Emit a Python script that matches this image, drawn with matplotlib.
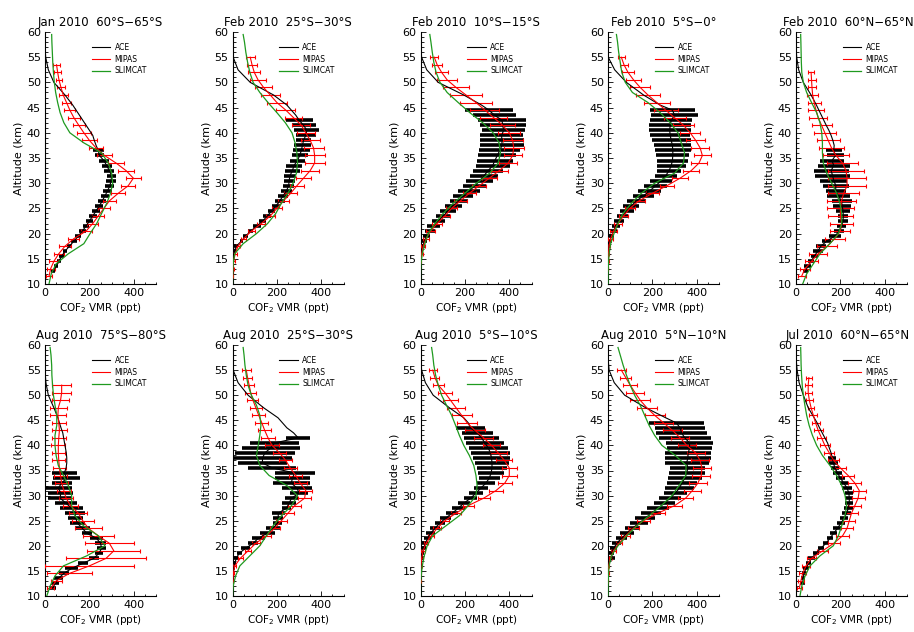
import numpy as np
import matplotlib
matplotlib.use('Agg')
import matplotlib.pyplot as plt
from matplotlib.lines import Line2D
from matplotlib.ticker import MultipleLocator

nan = np.nan

titles = ['Jan 2010  60°S\u221265°S', 'Feb 2010  25°S\u221230°S', 'Feb 2010  10°S\u221215°S',
          'Feb 2010  5°S\u22120°', 'Feb 2010  60°N\u221265°N',
          'Aug 2010  75°S\u221280°S', 'Aug 2010  25°S\u221230°S', 'Aug 2010  5°S\u221210°S',
          'Aug 2010  5°N\u221210°N', 'Jul 2010  60°N\u221265°N']

# ACE levels (km)
ace_alt = [10.5, 11.5, 12.5, 13.5, 14.5, 15.5, 16.5, 17.5, 18.5, 19.5,
           20.5, 21.5, 22.5, 23.5, 24.5, 25.5, 26.5, 27.5, 28.5, 29.5,
           30.5, 31.5, 32.5, 33.5, 34.5, 35.5, 36.5, 37.5, 38.5, 39.5,
           40.5, 41.5, 42.5, 43.5, 44.5, 45.5,
           47.5, 50.0, 52.5, 55.0, 57.5, 60.0]

ace_vmr = [
    [nan, nan, 35, 50, 62, 75, 90, 110, 130, 150,
     168, 185, 200, 215, 230, 245, 258, 270, 282, 292,
     298, 300, 290, 278, 265, 245, 240, 230, 222, 215,
     200, 185, 170, 155, 140, 125,
     90, 40, 15, 3, 0, 0],
    [0, 0, 1, 1, 2, 3, 8, 17, 40, 59,
     82, 110, 136, 157, 176, 196, 213, 228, 243, 253,
     255, 259, 270, 277, 292, 303, 310, 315, 320, 330,
     335, 320, 300, 285, 265, 245,
     185, 80, 25, 3, 0, 0],
    [0, 0, 0, 0, 1, 2, 5, 10, 17, 27,
     42, 58, 80, 102, 125, 148, 173, 192, 218, 245,
     267, 286, 305, 325, 335, 346, 357, 367, 367, 365,
     375, 370, 367, 333, 308, 275,
     195, 80, 28, 5, 0, 0],
    [0, 0, 0, 0, 0, 0, 1, 4, 8, 15,
     25, 35, 48, 65, 86, 105, 128, 160, 188, 215,
     240, 260, 275, 285, 290, 292, 292, 290, 285, 280,
     278, 280, 285, 300, 290, 235,
     160, 83, 30, 1, 0, 0],
    [nan, nan, 42, 53, 68, 82, 98, 112, 138, 175,
     195, 205, 212, 213, 212, 208, 205, 190, 178, 180,
     170, 165, 158, 170, 162, 178, 170, 172, 166, 158,
     148, 136, 125, 114, 103, 92,
     68, 33, 12, 3, 0, 0],
    [nan, 35, 45, 60, 85, 120, 170, 220, 243, 255,
     250, 232, 188, 168, 146, 139, 135, 120, 94, 68,
     71, 60, 75, 98, 87, 95, 98, 98, 96, 92,
     88, 84, 80, 72, 65, 58,
     40, 15, 4, 0, 0, 0],
    [0, 0, 0, 1, 2, 5, 10, 17, 30, 59,
     93, 116, 157, 183, 202, 206, 206, 243, 255, 266,
     300, 290, 265, 270, 280, 180, 135, 135, 146, 172,
     190, 296, 275, 245, 225, 205,
     140, 70, 25, 3, 0, 0],
    [0, 0, 0, 0, 1, 2, 4, 6, 8, 14,
     22, 32, 46, 65, 87, 113, 143, 170, 196, 226,
     250, 272, 295, 310, 318, 322, 322, 320, 315, 305,
     290, 275, 255, 225, 215, 195,
     130, 57, 22, 5, 0, 0],
    [0, 0, 0, 0, 0, 1, 3, 20, 15, 25,
     40, 60, 85, 110, 140, 168, 195, 225, 255, 280,
     303, 322, 333, 346, 354, 360, 354, 360, 361, 368,
     367, 346, 331, 325, 307, 260,
     170, 75, 28, 5, 0, 0],
    [nan, nan, 30, 32, 36, 45, 57, 70, 90, 112,
     135, 153, 170, 187, 202, 217, 228, 236, 240, 240,
     238, 230, 215, 200, 187, 176, 168, 164, 158, 150,
     142, 130, 118, 106, 95, 82,
     55, 33, 14, 5, 0, 0],
]

N6 = [nan] * 6
ace_err = [
    [nan, nan, 8, 9, 10, 10, 11, 12, 13, 14,
     15, 15, 16, 17, 18, 18, 19, 20, 20, 21,
     22, 22, 22, 22, 22, 22, 25, nan, nan, nan] + N6 + N6,
    [nan, nan, nan, nan, nan, nan, 7, 8, 8, 11,
     12, 17, 17, 18, 15, 17, 22, 22, 23, 26,
     25, 29, 33, 34, 34, 37, 37, 37, 35, 46,
     56, 54, 61, nan, nan, nan] + N6,
    [nan, nan, nan, nan, nan, nan, 5, 10, 12, 15,
     22, 28, 30, 30, 37, 37, 42, 45, 48, 52,
     60, 64, 67, 76, 82, 86, 93, 97, 97, 95,
     96, 103, 107, 96, 108, nan] + N6,
    [nan, nan, nan, nan, nan, nan, nan, 5, 8, 12,
     15, 18, 22, 26, 30, 36, 42, 48, 52, 52,
     50, 50, 55, 65, 70, 75, 80, 82, 88, 90,
     95, 95, 95, 105, 100, nan] + N6,
    [nan, nan, 11, 15, 15, 15, 22, 22, 20, 28,
     22, 22, 22, 22, 30, 40, 45, 52, 45, 60,
     60, 79, 79, 71, 52, 40, 37, nan, nan, nan] + N6 + N6,
    [nan, 15, 18, 19, 22, 30, 22, 22, 19, 22,
     26, 30, 22, 34, 34, 34, 45, 53, 49, 53,
     56, 60, 45, 60, 56, nan, nan, nan, nan, nan] + N6 + N6,
    [nan, nan, nan, nan, nan, 5, 7, 9, 11, 19,
     22, 30, 34, 30, 19, 22, 30, 22, 33, 30,
     41, 67, 82, 78, 90, 108, 112, 133, 135, 131,
     109, 53, nan, nan, nan, nan] + N6,
    [nan, nan, nan, nan, nan, nan, 4, 5, 7, 9,
     13, 17, 19, 22, 22, 26, 28, 30, 28, 28,
     30, 32, 40, 48, 58, 68, 78, 85, 88, 88,
     85, 80, 70, 65, nan, nan] + N6,
    [nan, nan, nan, nan, nan, nan, nan, 10, 12, 15,
     20, 25, 30, 35, 40, 45, 45, 48, 48, 50,
     53, 64, 68, 77, 81, 79, 99, 105, 103, 102,
     104, 118, 115, 113, 124, nan] + N6,
    [nan, nan, 10, 10, 10, 12, 12, 15, 15, 15,
     15, 15, 15, 19, 19, 19, 19, 19, 19, 19,
     19, 22, 19, 22, 19, 19, 19, 18, nan, nan] + N6 + N6,
]

# MIPAS levels (km)
mipas_alt = [11.5, 13.0, 14.5, 16.0, 17.5, 19.0, 20.5, 22.0, 23.5, 25.0,
             26.5, 28.0, 29.5, 31.0, 32.5, 34.0, 35.5, 37.0, 38.5, 40.0,
             41.5, 43.0, 44.5, 46.0, 47.5, 49.0, 50.5, 52.0, 53.5, 55.0]

mipas_vmr = [
    [18, 25, 40, 62, 90, 130, 185, 215, 240, 265,
     290, 330, 375, 398, 365, 320, 268, 230, 200, 175,
     152, 130, 112, 97, 82, 72, 63, 57, 52, nan],
    [1, 2, 5, 12, 25, 50, 85, 130, 170, 200,
     230, 262, 290, 320, 350, 370, 370, 365, 350, 330,
     310, 275, 240, 200, 170, 140, 115, 98, 88, 80],
    [nan, nan, 1, 5, 12, 25, 45, 75, 110, 140,
     180, 220, 265, 310, 355, 395, 415, 420, 415, 400,
     370, 330, 290, 250, 205, 160, 120, 95, 75, 62],
    [nan, 0, 1, 2, 5, 12, 25, 45, 70, 98,
     140, 200, 265, 325, 375, 410, 425, 415, 395, 370,
     340, 300, 260, 220, 180, 145, 115, 90, 72, 60],
    [25, 40, 70, 100, 140, 175, 200, 205, 200, 200,
     205, 215, 230, 230, 225, 210, 180, 160, 145, 130,
     115, 100, 90, 82, 75, 72, 70, 68, nan, nan],
    [25, 50, 110, 200, 275, 310, 290, 240, 195, 170,
     150, 115, 95, 85, 75, 70, 65, 62, 60, 60,
     62, 65, 62, 58, 60, 70, 75, 75, nan, nan],
    [0, 1, 4, 10, 35, 70, 105, 153, 190, 220,
     250, 280, 325, 330, 305, 285, 260, 240, 212, 178,
     160, 145, 132, 118, 105, 92, 82, 75, 68, 62],
    [nan, 0, 1, 2, 5, 12, 25, 48, 75, 110,
     160, 215, 285, 340, 380, 400, 400, 378, 350, 320,
     285, 245, 210, 185, 160, 135, 110, 80, 65, 55],
    [nan, 0, 1, 3, 10, 25, 50, 80, 115, 160,
     225, 300, 350, 380, 405, 420, 423, 415, 395, 355,
     325, 290, 250, 210, 175, 145, 122, 100, 80, 60],
    [15, 22, 30, 45, 70, 120, 170, 210, 230, 240,
     250, 265, 280, 285, 265, 235, 200, 170, 150, 130,
     115, 100, 88, 78, 68, 60, 55, 55, 58, nan],
]

mipas_err = [
    [15, 18, 20, 22, 25, 25, 25, 25, 28, 28,
     30, 32, 32, 35, 35, 35, 35, 32, 32, 30,
     28, 27, 25, 22, 20, 18, 15, 15, 15, nan],
    [3, 4, 6, 8, 10, 12, 15, 18, 20, 22,
     25, 28, 30, 35, 40, 45, 45, 45, 42, 40,
     40, 40, 42, 45, 42, 40, 35, 28, 22, 20],
    [nan, nan, 2, 6, 10, 15, 20, 22, 24, 26,
     28, 30, 32, 35, 38, 40, 40, 45, 45, 50,
     55, 60, 65, 70, 70, 60, 45, 30, 22, 18],
    [nan, 1, 2, 4, 6, 10, 15, 18, 20, 22,
     25, 30, 32, 35, 35, 38, 38, 40, 42, 45,
     48, 50, 55, 60, 55, 45, 35, 25, 18, 15],
    [18, 22, 30, 40, 45, 45, 45, 50, 55, 60,
     65, 70, 85, 85, 80, 70, 60, 55, 52, 50,
     45, 40, 35, 30, 25, 20, 18, 15, nan, nan],
    [15, 25, 100, 200, 180, 120, 110, 70, 60, 50,
     40, 35, 30, 30, 30, 30, 30, 30, 30, 32,
     32, 32, 32, 35, 38, 40, 42, 42, nan, nan],
    [nan, 2, 4, 8, 12, 15, 18, 20, 22, 25,
     25, 28, 30, 30, 30, 30, 30, 30, 30, 30,
     30, 30, 30, 28, 28, 25, 25, 22, 20, 20],
    [nan, 1, 2, 3, 5, 8, 10, 15, 18, 20,
     22, 25, 28, 30, 32, 35, 35, 36, 38, 40,
     42, 45, 45, 45, 40, 35, 30, 25, 20, 18],
    [nan, 1, 2, 3, 6, 10, 15, 20, 25, 28,
     30, 32, 35, 38, 40, 40, 40, 40, 40, 40,
     42, 42, 45, 45, 45, 45, 40, 32, 25, 20],
    [10, 12, 15, 18, 22, 25, 28, 28, 28, 28,
     28, 30, 30, 30, 30, 28, 25, 25, 22, 22,
     20, 20, 18, 18, 15, 15, 15, 15, 15, nan],
]

# SLIMCAT model levels (km)
slimcat_alt = [10, 12, 14, 16, 18, 20, 22, 24, 26, 28,
               30, 32, 34, 36, 38, 40, 42, 44, 46, 48,
               50, 52, 54, 56, 58, 59.5]

slimcat_vmr = [
    [18, 28, 50, 105, 175, 203, 233, 255, 278, 295,
     305, 300, 285, 255, 175, 112, 85, 68, 57, 48,
     42, 38, 35, 33, 31, 30],
    [0, 1, 3, 10, 48, 108, 158, 195, 220, 250,
     273, 288, 293, 290, 282, 268, 238, 200, 160, 123,
     93, 78, 68, 60, 54, 48],
    [0, 0, 2, 8, 20, 35, 65, 102, 147, 200,
     252, 312, 350, 360, 354, 327, 280, 222, 170, 120,
     88, 70, 60, 53, 47, 42],
    [0, 0, 2, 5, 12, 27, 45, 68, 105, 150,
     210, 300, 340, 345, 330, 315, 280, 235, 180, 110,
     78, 62, 55, 48, 43, 38],
    [30, 48, 78, 108, 153, 191, 206, 206, 198, 183,
     161, 138, 123, 119, 119, 116, 108, 93, 70, 48,
     33, 26, 24, 23, 22, 21],
    [8, 23, 45, 83, 188, 270, 240, 173, 135, 120,
     120, 105, 83, 60, 50, 45, 45, 53, 53, 45,
     38, 34, 31, 30, 27, 23],
    [0, 3, 14, 33, 78, 123, 153, 183, 221, 266,
     293, 245, 165, 123, 108, 116, 123, 128, 123, 108,
     85, 70, 62, 56, 52, 48],
    [0, 0, 3, 8, 17, 30, 55, 115, 175, 215,
     250, 255, 250, 240, 220, 195, 175, 158, 140, 117,
     95, 80, 68, 60, 55, 50],
    [0, 0, 2, 5, 15, 45, 85, 130, 185, 240,
     288, 320, 350, 352, 303, 243, 210, 185, 165, 145,
     120, 100, 83, 68, 55, 45],
    [18, 26, 41, 63, 108, 168, 191, 206, 221, 228,
     221, 206, 183, 153, 119, 93, 74, 59, 48, 40,
     33, 28, 25, 23, 22, 21],
]

GREEN = '#1f9a1f'

plt.rcParams['font.family'] = 'DejaVu Sans'
fig = plt.figure(figsize=(9.14, 6.32), dpi=100)

# panel frames in pixels
col_left = [45, 232.5, 420.5, 608, 796]
row_top = [32, 345]
row_bot = [284, 596]
W, H = 914.0, 632.0

for i in range(10):
    r, c = divmod(i, 5)
    ax = fig.add_axes([col_left[c] / W, 1 - row_bot[r] / H,
                       111 / W, (row_bot[r] - row_top[r]) / H])
    z_a = np.array(ace_alt)
    v_a = np.array(ace_vmr[i], dtype=float)
    e_a = np.array(ace_err[i], dtype=float)
    ok = ~np.isnan(e_a)
    ax.errorbar(v_a[ok], z_a[ok], xerr=e_a[ok], fmt='none', ecolor='black',
                elinewidth=2.6, capsize=0, zorder=2)

    z_m = np.array(mipas_alt)
    v_m = np.array(mipas_vmr[i], dtype=float)
    e_m = np.array(mipas_err[i], dtype=float)
    okm = ~np.isnan(e_m) & ~np.isnan(v_m)
    ax.errorbar(v_m[okm], z_m[okm], xerr=e_m[okm], fmt='none', ecolor='red',
                elinewidth=0.8, capsize=1.6, capthick=0.8, zorder=3)

    ax.plot(v_a, z_a, color='black', lw=0.8, zorder=4)
    ax.plot(v_m, z_m, color='red', lw=0.8, zorder=4)
    ax.plot(slimcat_vmr[i], slimcat_alt, color=GREEN, lw=0.9, zorder=5)

    ax.set_xlim(0, 500)
    ax.set_ylim(10, 60)
    ax.spines['top'].set_visible(False)
    ax.spines['right'].set_visible(False)
    ax.spines['left'].set_linewidth(0.8)
    ax.spines['bottom'].set_linewidth(0.8)
    ax.xaxis.set_major_locator(MultipleLocator(200))
    ax.xaxis.set_minor_locator(MultipleLocator(50))
    ax.yaxis.set_major_locator(MultipleLocator(5))
    ax.yaxis.set_minor_locator(MultipleLocator(1))
    ax.tick_params(which='both', direction='in', labelsize=8, width=0.6)
    ax.tick_params(which='major', length=3.5, pad=3)
    ax.tick_params(which='minor', length=1.8)
    # last column title sits right at the figure edge, nudge it in a bit
    tx = 0.47 if c == 4 else 0.5
    ax.set_title(titles[i], fontsize=8.5, pad=4, x=tx)
    ax.set_ylabel('Altitude (km)', fontsize=8, labelpad=2)
    ax.set_xlabel('COF$_2$ VMR (ppt)', fontsize=7.5, labelpad=2)

    handles = [Line2D([], [], color='black', lw=0.8),
               Line2D([], [], color='red', lw=0.8),
               Line2D([], [], color=GREEN, lw=0.9)]
    ax.legend(handles, ['ACE', 'MIPAS', 'SLIMCAT'], loc='upper left',
              bbox_to_anchor=(0.38, 0.975), frameon=False, fontsize=5.5,
              handlelength=2.4, handletextpad=0.6, labelspacing=0.35,
              borderaxespad=0.2)

fig.savefig('out.png', dpi=100)
